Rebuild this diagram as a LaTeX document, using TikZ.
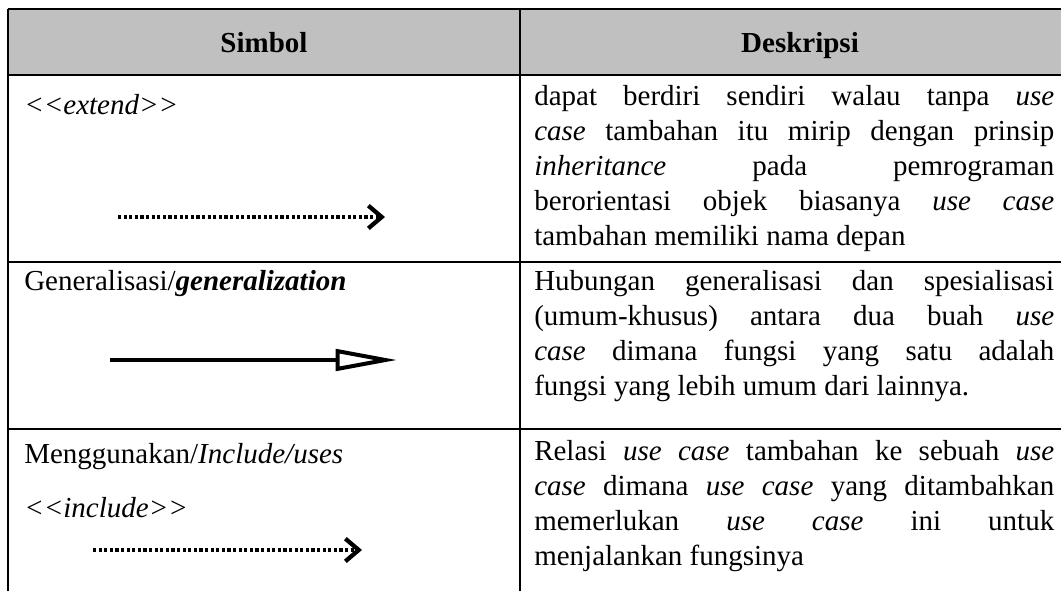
\documentclass[tikz,border=0pt]{standalone}
\usepackage{fontspec}
\setmainfont{Liberation Serif}
\usetikzlibrary{arrows.meta,positioning}
\definecolor{headgrey}{HTML}{C0C0C0}
\newcommand{\stereo}[1]{\textit{<\kern0pt<#1>\kern0pt>}}

\begin{document}
\begin{tikzpicture}[
    x=0.75pt, y=-0.75pt,
    font=\fontsize{21.75}{26.25}\selectfont,
    grid/.style={line width=2.2pt},
    head/.style={anchor=base, inner sep=0pt, font=\fontsize{21.75}{26.25}\selectfont\bfseries},
    cell/.style={anchor=base west, inner sep=0pt},
    desc/.style={anchor=north west, inner sep=0pt, text width=390pt, align=justify},
    dotarrow/.style={line width=2.6pt, dash pattern=on 2.4pt off 1.8pt, -{Straight Barb[length=10pt,width=17pt,line width=3.2pt]}},
    genarrow/.style={line width=3pt, -{Triangle[length=46pt,width=16pt,line width=3pt,fill=white]}}
]
\useasboundingbox (0,0) rectangle (1061,590);
\clip (0,0) rectangle (1061,590);

% Table
\fill[headgrey] (8,9) rectangle (1080,75);
\foreach \y in {9,75,262,429}
    \draw[grid] (8,\y) -- (1080,\y);
\draw[grid] (8,9) -- (8,600);
\draw[grid] (520,9) -- (520,600);

% Header
\node[head] (simbol) at (264,52) {Simbol};
\node[head] (deskripsi) at (800,52) {Deskripsi};

% Symbol column
\node[cell] (extend) at (24,114) {\stereo{extend}};
\node[cell] (general) at (24,290) {Generalisasi/\textbf{\textit{generalization}}};
\node[cell] (pakai) at (24,463) {Menggunakan/\textit{Include/uses}};
\node[cell] (include) at (24,517) {\stereo{include}};

% Description column
\node[desc] (descext) at (534,80.5) {\noindent\strut dapat berdiri sendiri walau tanpa \emph{use}\linebreak
    \emph{case} tambahan itu mirip dengan prinsip\linebreak
    \emph{inheritance} pada pemrograman\linebreak
    berorientasi objek biasanya \emph{use case}\linebreak
    tambahan memiliki nama depan};
\node[desc] (descgen) at (534,265.5) {\noindent\strut Hubungan generalisasi dan spesialisasi\linebreak
    (umum-khusus) antara dua buah \emph{use}\linebreak
    \emph{case} dimana fungsi yang satu adalah\linebreak
    fungsi yang lebih umum dari lainnya.};
\node[desc] (descinc) at (534,435.5) {\noindent\strut Relasi \emph{use case} tambahan ke sebuah \emph{use}\linebreak
    \emph{case} dimana \emph{use case} yang ditambahkan\linebreak
    memerlukan \emph{use case} ini untuk\linebreak
    menjalankan fungsinya};

% Arrows
\coordinate (exts) at (118,217);
\coordinate (exte) at (385,217);
\coordinate (gens) at (110,360);
\coordinate (gene) at (397,360);
\coordinate (incs) at (93,550);
\coordinate (ince) at (362,550);
\draw[dotarrow] (exts) -- (exte);
\draw[genarrow] (gens) -- (gene);
\draw[dotarrow] (incs) -- (ince);
\end{tikzpicture}
\end{document}
